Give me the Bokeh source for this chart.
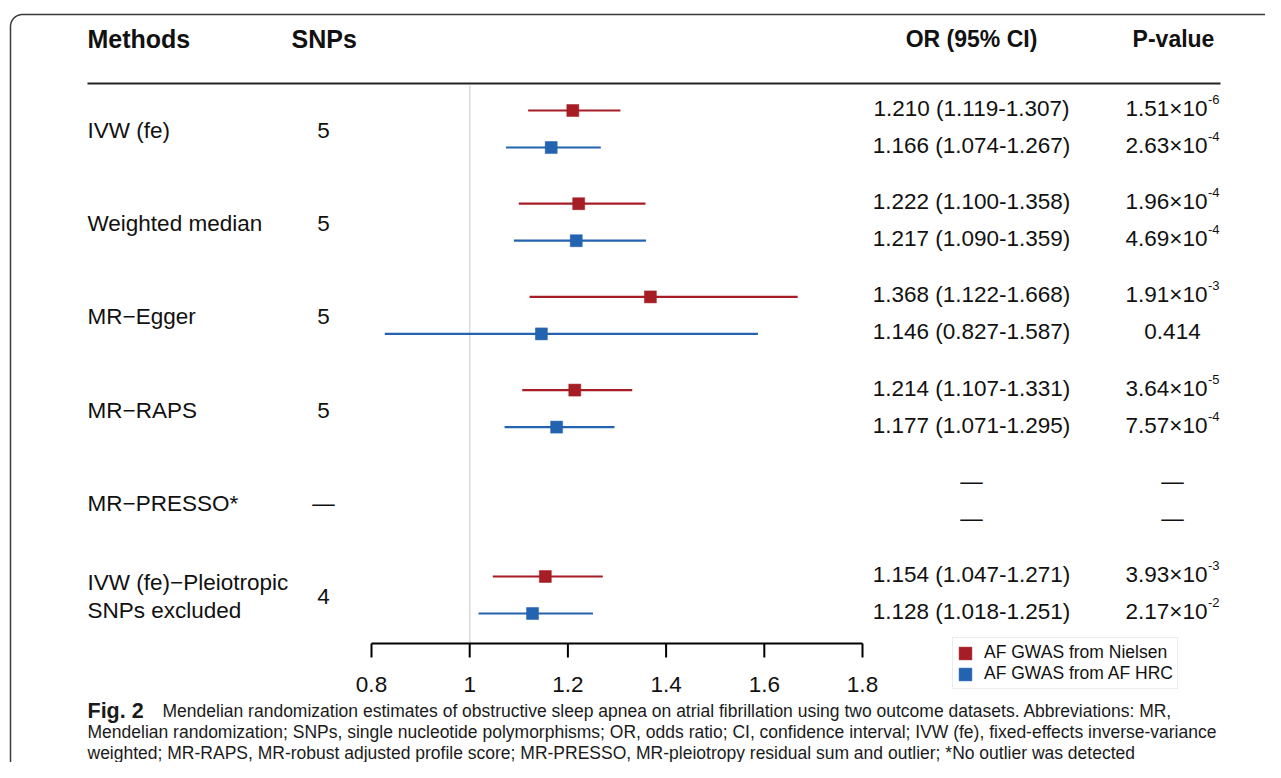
import math
from bokeh.plotting import figure
from bokeh.models import Range1d, Legend, LegendItem, ColumnDataSource
from bokeh.core.properties import value
from bokeh.embed import file_html
from bokeh.resources import INLINE

# ---------------- data ----------------
methods = ["IVW (fe)", "Weighted median", "MR\u2212Egger", "MR\u2212RAPS",
           "MR\u2212PRESSO*", "IVW (fe)\u2212Pleiotropic\nSNPs excluded"]
snps = ["5", "5", "5", "5", "\u2014", "4"]

nielsen_or = [1.210, 1.222, 1.368, 1.214, float("nan"), 1.154]
nielsen_lo = [1.119, 1.100, 1.122, 1.107, float("nan"), 1.047]
nielsen_hi = [1.307, 1.358, 1.668, 1.331, float("nan"), 1.271]
nielsen_p = ["1.51\u00d710^-6", "1.96\u00d710^-4", "1.91\u00d710^-3",
             "3.64\u00d710^-5", "\u2014", "3.93\u00d710^-3"]

hrc_or = [1.166, 1.217, 1.146, 1.177, float("nan"), 1.128]
hrc_lo = [1.074, 1.090, 0.827, 1.071, float("nan"), 1.018]
hrc_hi = [1.267, 1.359, 1.587, 1.295, float("nan"), 1.251]
hrc_p = ["2.63\u00d710^-4", "4.69\u00d710^-4", "0.414",
         "7.57\u00d710^-4", "\u2014", "2.17\u00d710^-2"]

series_labels = ["AF GWAS from Nielsen", "AF GWAS from AF HRC"]
ticks = [0.8, 1.0, 1.2, 1.4, 1.6, 1.8]
tick_labels = ["0.8", "1", "1.2", "1.4", "1.6", "1.8"]
headers_left = ["Methods", "SNPs"]
headers_right = ["OR (95% CI)", "P-value"]

caption_bold = "Fig. 2"
caption_lines = [
    "Mendelian randomization estimates of obstructive sleep apnea on atrial fibrillation using two outcome datasets. Abbreviations: MR,",
    "Mendelian randomization; SNPs, single nucleotide polymorphisms; OR, odds ratio; CI, confidence interval; IVW (fe), fixed-effects inverse-variance",
    "weighted; MR-RAPS, MR-robust adjusted profile score; MR-PRESSO, MR-pleiotropy residual sum and outlier; *No outlier was detected",
]

# ---------------- styling / layout ----------------
RED = "#A61D26"
BLUE = "#2363AF"
TXT = "#111111"
FONT_NAME = "Liberation Sans"
FONT = value(FONT_NAME)

W, H = 1265, 762
px_per_unit = 491.0
x0 = 0.8 - 371 / px_per_unit
x1 = x0 + W / px_per_unit

p = figure(width=W, height=H, output_backend="svg", toolbar_location=None,
           x_range=Range1d(x0, x1), y_range=Range1d(H, 0),
           min_border=0, outline_line_color=None)
p.extra_x_ranges = {"px": Range1d(0, W)}
p.axis.visible = False
p.grid.visible = False
p.background_fill_color = "white"
p.border_fill_color = "white"

n = len(methods)
group_y = [128.5 + 93.2 * i for i in range(n)]
red_y = [g - 18.5 for g in group_y]
blue_y = [g + 18.5 for g in group_y]

# frame (rounded top-left corner)
r = 12
angles = list(range(0, 91, 5))
arc_x = [10 + r - r * math.cos(math.radians(a)) for a in angles]
arc_y = [14 + r - r * math.sin(math.radians(a)) for a in angles]
p.line([10] + arc_x + [1290], [800] + arc_y + [14],
       x_range_name="px", line_color="#3a3a3a", line_width=1.5)

# header
p.text(x=[87, 291], y=[38, 38], text=headers_left, x_range_name="px",
       text_font=FONT, text_font_style="bold", text_font_size="25px",
       text_align="left", text_baseline="middle", text_color=TXT)
p.text(x=[971, 1173], y=[38, 38], text=headers_right, x_range_name="px",
       text_font=FONT, text_font_style="bold", text_font_size="23px",
       text_align="center", text_baseline="middle", text_color=TXT)
p.line([87, 1220], [83, 83], x_range_name="px", line_color="#222222", line_width=2.2)

# reference line at OR = 1
p.segment(x0=[1.0], y0=[85], x1=[1.0], y1=[643], line_color="#d9d9d9", line_width=1.5)

# axis
p.segment(x0=[ticks[0]], y0=[643], x1=[ticks[-1]], y1=[643], line_color="black", line_width=2)
p.segment(x0=ticks, y0=[643] * len(ticks), x1=ticks, y1=[657] * len(ticks),
          line_color="black", line_width=2)
p.text(x=ticks, y=[684] * len(ticks), text=tick_labels, text_font=FONT,
       text_font_size="22.5px", text_align="center", text_baseline="middle", text_color=TXT)

# left columns
p.text(x=[87] * n, y=[g + 1.5 for g in group_y], text=methods, x_range_name="px",
       text_font=FONT, text_font_size="22.5px", text_align="left", text_baseline="middle",
       text_color=TXT, text_line_height=1.15)
p.text(x=[323] * n, y=[g + 1.5 for g in group_y], text=snps, x_range_name="px",
       text_font=FONT, text_font_size="22.5px", text_align="center", text_baseline="middle",
       text_color=TXT)

# CI segments and squares
red_src = ColumnDataSource(dict(y=red_y, m=nielsen_or, lo=nielsen_lo, hi=nielsen_hi))
blue_src = ColumnDataSource(dict(y=blue_y, m=hrc_or, lo=hrc_lo, hi=hrc_hi))
p.segment(x0="lo", x1="hi", y0="y", y1="y", source=red_src, line_color=RED, line_width=2.2)
p.segment(x0="lo", x1="hi", y0="y", y1="y", source=blue_src, line_color=BLUE, line_width=2.2)
red_r = p.rect(x="m", y="y", width=12, height=12, width_units="screen", height_units="screen",
               source=red_src, fill_color=RED, line_color=RED, line_width=0.5)
blue_r = p.rect(x="m", y="y", width=12, height=12, width_units="screen", height_units="screen",
                source=blue_src, fill_color=BLUE, line_color=BLUE, line_width=0.5)


# OR text column
def or_text(m, lo, hi):
    if m != m:
        return "\u2014"
    return f"{m:.3f} ({lo:.3f}-{hi:.3f})"


or_all = [or_text(*v) for v in zip(nielsen_or, nielsen_lo, nielsen_hi)] + \
         [or_text(*v) for v in zip(hrc_or, hrc_lo, hrc_hi)]
ys_all = red_y + blue_y
p_all = nielsen_p + hrc_p
p.text(x=[971] * len(or_all), y=[y - 2 for y in ys_all], text=or_all, x_range_name="px",
       text_font=FONT, text_font_size="22.5px", text_align="center", text_baseline="middle",
       text_color=TXT)

# P-value column
main_y, main_t = [], []
sup_y, sup_t = [], []
plain_y, plain_t = [], []
for y, s in zip(ys_all, p_all):
    if "^" in s:
        a, b = s.split("^")
        main_y.append(y - 2)
        main_t.append(a)
        sup_y.append(y - 11)
        sup_t.append(b)
    else:
        plain_y.append(y - 2)
        plain_t.append(s)
p.text(x=[1207] * len(main_t), y=main_y, text=main_t, x_range_name="px",
       text_font=FONT, text_font_size="22.5px", text_align="right", text_baseline="middle",
       text_color=TXT)
p.text(x=[1207.5] * len(sup_t), y=sup_y, text=sup_t, x_range_name="px",
       text_font=FONT, text_font_size="13px", text_align="left", text_baseline="middle",
       text_color=TXT)
p.text(x=[1172] * len(plain_t), y=plain_y, text=plain_t, x_range_name="px",
       text_font=FONT, text_font_size="22.5px", text_align="center", text_baseline="middle",
       text_color=TXT)

# caption
cap_y = [710, 731, 752]
p.text(x=[87], y=[cap_y[0]], text=[caption_bold], x_range_name="px", text_font=FONT,
       text_font_style="bold", text_font_size="21.5px", text_align="left", text_baseline="middle",
       text_color="#1a1a1a")
p.text(x=[162, 87, 87], y=cap_y, text=caption_lines, x_range_name="px",
       text_font=FONT, text_font_size="17.5px", text_align="left", text_baseline="middle",
       text_color="#1a1a1a")

# legend
legend = Legend(items=[LegendItem(label=series_labels[0], renderers=[red_r]),
                       LegendItem(label=series_labels[1], renderers=[blue_r])],
                location=(952, H - 689), orientation="vertical",
                glyph_width=16, glyph_height=16, label_height=14, spacing=0,
                padding=4, margin=0, label_standoff=11,
                label_text_font=FONT_NAME, label_text_font_size="17.5px", label_text_color=TXT,
                border_line_color="#d9d9d9", border_line_width=1.5,
                background_fill_color="white", background_fill_alpha=1.0)
p.add_layout(legend)

open("out.html", "w").write(file_html(p, INLINE))
